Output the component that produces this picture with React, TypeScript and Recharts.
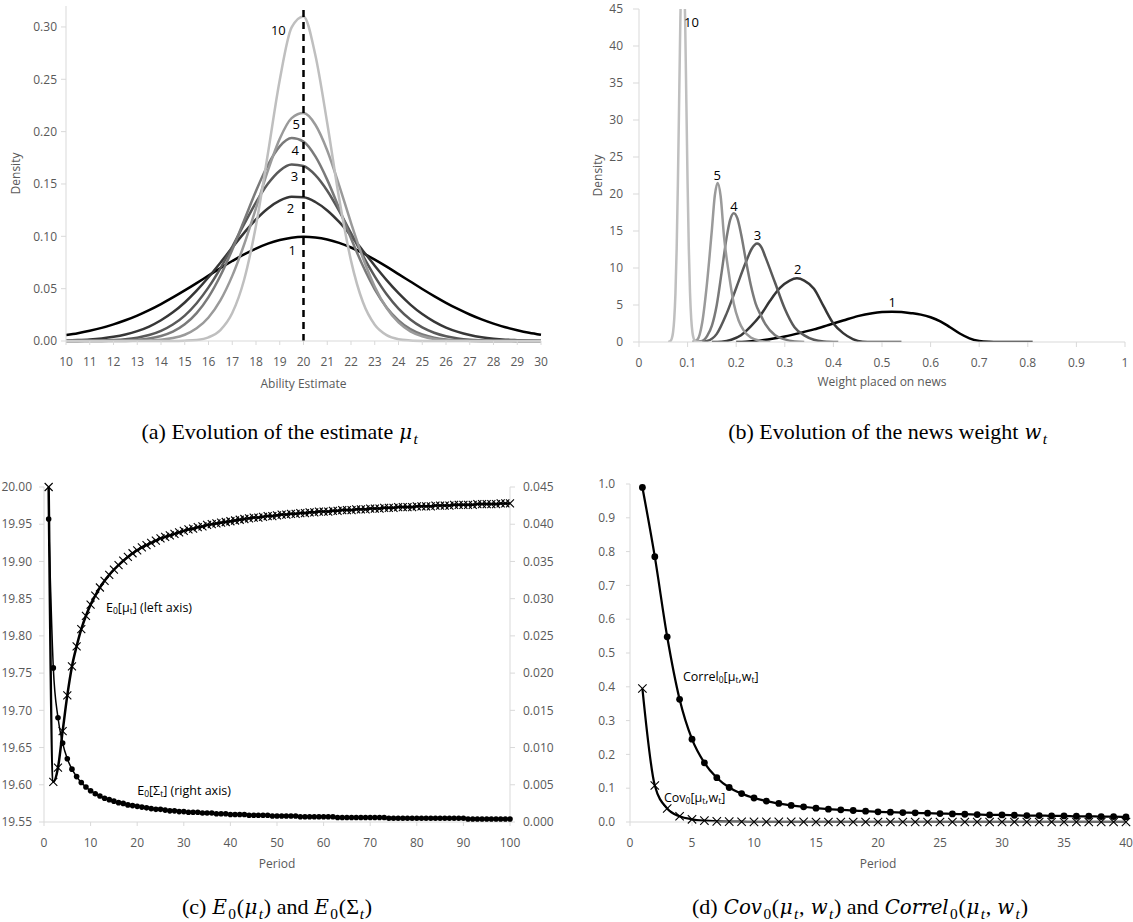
import React from 'react';
import { LineChart, Line, XAxis, YAxis, ReferenceLine, ReferenceDot } from 'recharts';

// ---------------- Panel (a): density of the ability estimate ----------------
const aX = [10, 10.5, 11, 11.5, 12, 12.5, 13, 13.5, 14, 14.5, 15, 15.5, 16, 16.5, 17, 17.5, 18, 18.5, 19, 19.5, 20, 20.5, 21, 21.5, 22, 22.5, 23, 23.5, 24, 24.5, 25, 25.5, 26, 26.5, 27, 27.5, 28, 28.5, 29, 29.5, 30];
const aPeriod1 = [0.0057, 0.0075, 0.0098, 0.0125, 0.0159, 0.0198, 0.0243, 0.0295, 0.0353, 0.0416, 0.0483, 0.0553, 0.0625, 0.0696, 0.0764, 0.0828, 0.0883, 0.093, 0.0964, 0.0987, 0.0995, 0.0989, 0.097, 0.0937, 0.0893, 0.0839, 0.0777, 0.071, 0.0639, 0.0568, 0.0497, 0.0429, 0.0365, 0.0306, 0.0253, 0.0206, 0.0166, 0.0131, 0.0103, 0.0079, 0.006];
const aPeriod2 = [0.0005, 0.0009, 0.0015, 0.0025, 0.004, 0.0062, 0.0094, 0.0138, 0.0198, 0.0274, 0.0368, 0.0481, 0.0609, 0.0748, 0.0892, 0.1033, 0.1161, 0.1266, 0.134, 0.1377, 0.1373, 0.1328, 0.1247, 0.1137, 0.1006, 0.0863, 0.0719, 0.0582, 0.0457, 0.0348, 0.0257, 0.0185, 0.0128, 0.0087, 0.0057, 0.0036, 0.0022, 0.0013, 0.0008, 0.0004, 0.0002];
const aPeriod3 = [0, 0.0001, 0.0002, 0.0004, 0.0009, 0.0017, 0.0032, 0.0057, 0.0097, 0.0157, 0.0243, 0.0361, 0.0512, 0.0694, 0.09, 0.1116, 0.1324, 0.1501, 0.1627, 0.1686, 0.1671, 0.1584, 0.1435, 0.1243, 0.103, 0.0816, 0.0618, 0.0447, 0.031, 0.0205, 0.013, 0.0079, 0.0045, 0.0025, 0.0013, 0.0007, 0.0003, 0.0002, 0.0001, 0, 0];
const aPeriod4 = [0, 0, 0, 0.0001, 0.0002, 0.0005, 0.0011, 0.0024, 0.0048, 0.0089, 0.0159, 0.0266, 0.0419, 0.0623, 0.0872, 0.1152, 0.1433, 0.1681, 0.1859, 0.1938, 0.1904, 0.1763, 0.1539, 0.1266, 0.0982, 0.0718, 0.0494, 0.0321, 0.0197, 0.0113, 0.0062, 0.0032, 0.0015, 0.0007, 0.0003, 0.0001, 0, 0, 0, 0, 0];
const aPeriod5 = [0, 0, 0, 0, 0, 0.0001, 0.0002, 0.0005, 0.0012, 0.0028, 0.006, 0.0121, 0.0225, 0.0388, 0.0622, 0.0922, 0.127, 0.1627, 0.1932, 0.2129, 0.2177, 0.2066, 0.182, 0.1487, 0.1129, 0.0795, 0.0519, 0.0315, 0.0177, 0.0092, 0.0045, 0.002, 0.0008, 0.0003, 0.0001, 0, 0, 0, 0, 0, 0];
const aPeriod10 = [0, 0, 0, 0, 0, 0, 0, 0, 0, 0, 0.0003, 0.001, 0.0035, 0.0105, 0.0267, 0.0585, 0.1103, 0.1788, 0.2493, 0.2995, 0.31, 0.2729, 0.208, 0.1363, 0.0768, 0.0372, 0.0155, 0.0056, 0.0017, 0.0005, 0.0001, 0, 0, 0, 0, 0, 0, 0, 0, 0, 0];
const aTicksX = [10, 11, 12, 13, 14, 15, 16, 17, 18, 19, 20, 21, 22, 23, 24, 25, 26, 27, 28, 29, 30];
const aTicksY = [0, 0.05, 0.1, 0.15, 0.2, 0.25, 0.3];
const aTrueAbility = 20;

// ---------------- Panel (b): density of the news weight ----------------
const bX1 = [0.2, 0.22, 0.25, 0.28, 0.3, 0.33, 0.36, 0.39, 0.42, 0.45, 0.48, 0.5, 0.52, 0.54, 0.56, 0.58, 0.6, 0.62, 0.64, 0.66, 0.68, 0.7, 0.72, 0.74, 0.81];
const bY1 = [0, 0.05, 0.2, 0.5, 0.75, 1.2, 1.7, 2.3, 2.9, 3.5, 3.9, 4.05, 4.1, 4.05, 3.9, 3.7, 3.35, 2.8, 2.0, 1.15, 0.5, 0.15, 0.03, 0, 0];
const bX2 = [0.15, 0.17, 0.19, 0.21, 0.23, 0.25, 0.27, 0.29, 0.31, 0.325, 0.34, 0.36, 0.38, 0.4, 0.42, 0.44, 0.46, 0.48, 0.54];
const bY2 = [0, 0.05, 0.3, 0.9, 2.1, 3.6, 5.6, 7.3, 8.3, 8.6, 8.3, 7.2, 4.8, 2.5, 1.2, 0.4, 0.05, 0, 0];
const bX3 = [0.12, 0.14, 0.16, 0.18, 0.2, 0.22, 0.232, 0.243, 0.252, 0.26, 0.28, 0.3, 0.32, 0.34, 0.36, 0.38, 0.41];
const bY3 = [0, 0.15, 1.1, 3.8, 7.3, 10.8, 12.6, 13.3, 12.8, 11.5, 8.0, 4.5, 2.0, 0.9, 0.3, 0.08, 0];
const bX4 = [0.11, 0.13, 0.14, 0.15, 0.16, 0.17, 0.18, 0.1875, 0.195, 0.2025, 0.21, 0.22, 0.23, 0.24, 0.25, 0.26, 0.28, 0.3, 0.32, 0.34];
const bY4 = [0, 0.15, 0.8, 2.2, 5.0, 9.4, 14.0, 16.5, 17.4, 16.7, 14.6, 11.0, 7.7, 5.2, 3.7, 2.4, 0.9, 0.35, 0.08, 0];
const bX5 = [0.11, 0.12, 0.13, 0.14, 0.15, 0.156, 0.162, 0.168, 0.175, 0.185, 0.195, 0.205, 0.215, 0.23, 0.25, 0.27];
const bY5 = [0, 0.3, 2.6, 8.0, 15.2, 19.8, 21.5, 19.7, 14.2, 9.2, 5.2, 2.9, 1.6, 0.6, 0.15, 0];
const bX10 = [0.06, 0.065, 0.0675, 0.07, 0.0725, 0.075, 0.0775, 0.08, 0.0825, 0.085, 0.0875, 0.09, 0.0925, 0.095, 0.0975, 0.1, 0.1025, 0.105, 0.1075, 0.11, 0.1125, 0.115, 0.12, 0.13];
const bY10 = [0, 0.155, 0.47, 1.28, 3.09, 6.61, 12.6, 21.4, 32.2, 43.2, 51.5, 54.6, 51.5, 43.2, 32.2, 21.4, 12.6, 6.61, 3.09, 1.28, 0.47, 0.155, 0.01, 0];
const bTicksX = [0, 0.1, 0.2, 0.3, 0.4, 0.5, 0.6, 0.7, 0.8, 0.9, 1];
const bTicksY = [0, 5, 10, 15, 20, 25, 30, 35, 40, 45];

// ---------------- Panel (c): E0(mu_t) and E0(Sigma_t) ----------------
const cMu = [
  20.0, 19.604, 19.623, 19.672, 19.72, 19.759, 19.786, 19.809, 19.827, 19.842,
  19.854, 19.865, 19.874, 19.882, 19.889, 19.895, 19.901, 19.906, 19.911, 19.915,
  19.919, 19.922, 19.925, 19.928, 19.931, 19.933, 19.935, 19.937, 19.939, 19.941,
  19.943, 19.944, 19.946, 19.947, 19.949, 19.95, 19.951, 19.952, 19.953, 19.954,
  19.955, 19.956, 19.957, 19.958, 19.959, 19.959, 19.96, 19.961, 19.961, 19.962,
  19.963, 19.963, 19.964, 19.964, 19.965, 19.965, 19.966, 19.966, 19.967, 19.967,
  19.967, 19.968, 19.968, 19.969, 19.969, 19.969, 19.97, 19.97, 19.97, 19.971,
  19.971, 19.971, 19.972, 19.972, 19.972, 19.973, 19.973, 19.973, 19.973, 19.974,
  19.974, 19.974, 19.974, 19.975, 19.975, 19.975, 19.975, 19.976, 19.976, 19.976,
  19.976, 19.976, 19.977, 19.977, 19.977, 19.977, 19.977, 19.978, 19.978, 19.978,
];
const cSigma = [
  0.0407, 0.0207, 0.014, 0.0106, 0.0085, 0.0071, 0.0061, 0.0053, 0.0047, 0.0042,
  0.0038, 0.0035, 0.0032, 0.003, 0.0028, 0.0026, 0.0025, 0.0023, 0.0022, 0.0021,
  0.002, 0.0019, 0.0018, 0.0017, 0.0017, 0.0016, 0.0015, 0.0015, 0.0014, 0.0014,
  0.0013, 0.0013, 0.0013, 0.0012, 0.0012, 0.0012, 0.0011, 0.0011, 0.0011, 0.001,
  0.001, 0.001, 0.001, 0.0009, 0.0009, 0.0009, 0.0009, 0.0009, 0.0008, 0.0008,
  0.0008, 0.0008, 0.0008, 0.0008, 0.0007, 0.0007, 0.0007, 0.0007, 0.0007, 0.0007,
  0.0007, 0.0007, 0.0006, 0.0006, 0.0006, 0.0006, 0.0006, 0.0006, 0.0006, 0.0006,
  0.0006, 0.0006, 0.0006, 0.0005, 0.0005, 0.0005, 0.0005, 0.0005, 0.0005, 0.0005,
  0.0005, 0.0005, 0.0005, 0.0005, 0.0005, 0.0005, 0.0005, 0.0005, 0.0005, 0.0005,
  0.0004, 0.0004, 0.0004, 0.0004, 0.0004, 0.0004, 0.0004, 0.0004, 0.0004, 0.0004,
];
const cTicksX = [0, 10, 20, 30, 40, 50, 60, 70, 80, 90, 100];
const cTicksLeft = [19.55, 19.6, 19.65, 19.7, 19.75, 19.8, 19.85, 19.9, 19.95, 20.0];
const cTicksRight = [0, 0.005, 0.01, 0.015, 0.02, 0.025, 0.03, 0.035, 0.04, 0.045];

// ---------------- Panel (d): Cov0 and Correl0 ----------------
const dCorrel = [
  0.99, 0.785, 0.548, 0.363, 0.245, 0.175, 0.131, 0.102, 0.084, 0.071,
  0.062, 0.055, 0.049, 0.045, 0.041, 0.038, 0.036, 0.034, 0.032, 0.03,
  0.029, 0.028, 0.027, 0.026, 0.025, 0.024, 0.023, 0.022, 0.021, 0.021,
  0.02, 0.019, 0.019, 0.018, 0.018, 0.017, 0.017, 0.016, 0.016, 0.015,
];
const dCov = [
  0.395, 0.108, 0.04, 0.017, 0.008, 0.004, 0.002, 0.0012, 0.0008, 0.0005,
  0.0004, 0.0003, 0.0002, 0.0002, 0.0001, 0.0001, 0.0001, 0.0001, 0.0001, 0.0001,
  0.0001, 0.0001, 0.0001, 0.0001, 0.0001, 0.0001, 0.0001, 0.0001, 0.0001, 0.0001,
  0.0001, 0.0001, 0.0001, 0.0001, 0.0001, 0.0001, 0.0001, 0.0001, 0.0001, 0.0001,
];
const dTicksX = [0, 5, 10, 15, 20, 25, 30, 35, 40];
const dTicksY = [0, 0.1, 0.2, 0.3, 0.4, 0.5, 0.6, 0.7, 0.8, 0.9, 1.0];

// ---------------- tables built from the arrays ----------------
const aData = aX.map((x, i) => ({ x, p1: aPeriod1[i], p2: aPeriod2[i], p3: aPeriod3[i], p4: aPeriod4[i], p5: aPeriod5[i], p10: aPeriod10[i] }));
const pairs = (xs: number[], ys: number[]) => xs.map((x, i) => ({ x, y: ys[i] }));
const bData1 = pairs(bX1, bY1);
const bData2 = pairs(bX2, bY2);
const bData3 = pairs(bX3, bY3);
const bData4 = pairs(bX4, bY4);
const bData5 = pairs(bX5, bY5);
const bData10 = pairs(bX10, bY10);
const cData = cMu.map((m, i) => ({ t: i + 1, mu: m, sigma: cSigma[i] }));
const dData = dCorrel.map((c, i) => ({ t: i + 1, correl: c, cov: dCov[i] }));

// ---------------- styling ----------------
const FONT = '"Open Sans", "Noto Sans", sans-serif';
const AXIS_COLOR = '#d9d9d9';
const TICK_COLOR = '#595959';
const tickStyle = { fill: TICK_COLOR, fontSize: 12, fontFamily: FONT };
const axisLine = { stroke: AXIS_COLOR, strokeWidth: 1 };
const titleStyle = { fill: TICK_COLOR, fontSize: 12, fontFamily: FONT };

const C1 = '#000000';
const C2 = '#363636';
const C3 = '#595959';
const C4 = '#7a7a7a';
const C5 = '#9a9a9a';
const C10 = '#bfbfbf';

const xMark = (s: number) => (props: any) => {
  const { cx, cy, index } = props;
  if (cx == null || cy == null || isNaN(cx) || isNaN(cy)) return <g key={`xm-${index}`} />;
  return (
    <path
      key={`xm-${index}`}
      d={`M${cx - s},${cy - s}L${cx + s},${cy + s}M${cx - s},${cy + s}L${cx + s},${cy - s}`}
      stroke="#000"
      strokeWidth={1.1}
      fill="none"
    />
  );
};

const numLabel = (text: string) => (p: any) => (
  <text x={p.cx} y={p.cy} textAnchor="middle" dominantBaseline="central" fontFamily={FONT} fontSize={13} fill="#000">
    {text}
  </text>
);

type Seg = [string, boolean];
const subLabel = (segs: Seg[]) => (p: any) => (
  <text x={p.cx} y={p.cy} dominantBaseline="central" fontFamily={FONT} fontSize={12.5} fill="#000">
    {segs.map(([t, sub], i) => {
      const prevSub = i > 0 && segs[i - 1][1];
      const dy = sub && !prevSub ? 3 : !sub && prevSub ? -3 : 0;
      return (
        <tspan key={i} dy={dy} fontSize={sub ? 8.5 : 12.5}>
          {t}
        </tspan>
      );
    })}
  </text>
);

const Sub = ({ children }: { children: React.ReactNode }) => (
  <span style={{ fontSize: '0.7em', position: 'relative', top: '0.3em', margin: '0 0.05em' }}>{children}</span>
);
const M = ({ children }: { children: React.ReactNode }) => (
  <span style={{ fontStyle: 'italic', fontFamily: '"DejaVu Serif", serif', fontSize: '0.9em', margin: '0 0.03em' }}>{children}</span>
);

const capStyle = (cx: number, cy: number): React.CSSProperties => ({
  position: 'absolute',
  left: cx - 300,
  width: 600,
  top: cy - 14,
  height: 28,
  textAlign: 'center',
  fontFamily: '"Liberation Serif", "DejaVu Serif", serif',
  fontSize: 22,
  lineHeight: '28px',
  color: '#000',
  whiteSpace: 'nowrap',
});

const box = (left: number, top: number): React.CSSProperties => ({ position: 'absolute', left, top });

export default function App() {
  return (
    <div style={{ position: 'absolute', left: 0, top: 0, width: 1133, height: 922, background: '#fff', overflow: 'hidden' }}>
      {/* (a) */}
      <div style={box(0, 0)}>
        <LineChart width={560} height={400} data={aData} margin={{ top: 6, right: 19, left: 6, bottom: 12 }}>
          <XAxis
            type="number"
            dataKey="x"
            domain={[10, 30]}
            ticks={aTicksX}
            interval={0}
            height={47}
            axisLine={axisLine}
            tickLine={{ stroke: AXIS_COLOR }}
            tickSize={4}
            tickMargin={12}
            tick={tickStyle}
            label={{ value: 'Ability Estimate', position: 'insideBottom', offset: 0, style: titleStyle }}
          />
          <YAxis
            type="number"
            domain={[0, 0.32]}
            ticks={aTicksY}
            interval={0}
            width={60}
            axisLine={axisLine}
            tickLine={{ stroke: AXIS_COLOR }}
            tickSize={5}
            tickMargin={4}
            tick={tickStyle}
            tickFormatter={(v: number) => v.toFixed(2)}
            label={{ value: 'Density', angle: -90, position: 'insideLeft', offset: 10, style: { ...titleStyle, textAnchor: 'middle' } }}
          />
          <Line dataKey="p1" type="monotone" stroke={C1} strokeWidth={2.5} dot={false} activeDot={false} isAnimationActive={false} />
          <Line dataKey="p2" type="monotone" stroke={C2} strokeWidth={2.5} dot={false} activeDot={false} isAnimationActive={false} />
          <Line dataKey="p3" type="monotone" stroke={C3} strokeWidth={2.5} dot={false} activeDot={false} isAnimationActive={false} />
          <Line dataKey="p4" type="monotone" stroke={C4} strokeWidth={2.5} dot={false} activeDot={false} isAnimationActive={false} />
          <Line dataKey="p5" type="monotone" stroke={C5} strokeWidth={2.5} dot={false} activeDot={false} isAnimationActive={false} />
          <Line dataKey="p10" type="monotone" stroke={C10} strokeWidth={2.5} dot={false} activeDot={false} isAnimationActive={false} />
          <ReferenceLine x={aTrueAbility} stroke="#000" strokeWidth={2.5} strokeDasharray="7 5" />
          <ReferenceDot x={18.94} y={0.297} r={0} shape={numLabel('10')} />
          <ReferenceDot x={19.69} y={0.207} r={0} shape={numLabel('5')} />
          <ReferenceDot x={19.65} y={0.182} r={0} shape={numLabel('4')} />
          <ReferenceDot x={19.62} y={0.158} r={0} shape={numLabel('3')} />
          <ReferenceDot x={19.45} y={0.127} r={0} shape={numLabel('2')} />
          <ReferenceDot x={19.52} y={0.087} r={0} shape={numLabel('1')} />
        </LineChart>
      </div>

      {/* (b) */}
      <div style={box(560, 0)}>
        <LineChart width={573} height={400} margin={{ top: 9, right: 8, left: 20, bottom: 14 }}>
          <XAxis
            type="number"
            dataKey="x"
            domain={[0, 1]}
            ticks={bTicksX}
            interval={0}
            height={44}
            axisLine={axisLine}
            tickLine={{ stroke: AXIS_COLOR }}
            tickSize={5}
            tickMargin={11}
            tick={tickStyle}
            label={{ value: 'Weight placed on news', position: 'insideBottom', offset: 0, style: titleStyle }}
          />
          <YAxis
            type="number"
            dataKey="y"
            domain={[0, 45]}
            allowDataOverflow
            ticks={bTicksY}
            interval={0}
            width={59}
            axisLine={axisLine}
            tickLine={{ stroke: AXIS_COLOR }}
            tickSize={6}
            tickMargin={10}
            tick={tickStyle}
            label={{ value: 'Density', angle: -90, position: 'insideLeft', offset: 18, style: { ...titleStyle, textAnchor: 'middle' } }}
          />
          <Line data={bData1} dataKey="y" type="monotone" stroke={C1} strokeWidth={2.5} dot={false} activeDot={false} isAnimationActive={false} />
          <Line data={bData2} dataKey="y" type="monotone" stroke={C2} strokeWidth={2.5} dot={false} activeDot={false} isAnimationActive={false} />
          <Line data={bData3} dataKey="y" type="monotone" stroke={C3} strokeWidth={2.5} dot={false} activeDot={false} isAnimationActive={false} />
          <Line data={bData4} dataKey="y" type="monotone" stroke={C4} strokeWidth={2.5} dot={false} activeDot={false} isAnimationActive={false} />
          <Line data={bData5} dataKey="y" type="monotone" stroke={C5} strokeWidth={2.5} dot={false} activeDot={false} isAnimationActive={false} />
          <Line data={bData10} dataKey="y" type="monotone" stroke={C10} strokeWidth={2.5} dot={false} activeDot={false} isAnimationActive={false} />
          <ReferenceDot x={0.108} y={43.3} r={0} shape={numLabel('10')} />
          <ReferenceDot x={0.161} y={22.55} r={0} shape={numLabel('5')} />
          <ReferenceDot x={0.1955} y={18.4} r={0} shape={numLabel('4')} />
          <ReferenceDot x={0.244} y={14.5} r={0} shape={numLabel('3')} />
          <ReferenceDot x={0.3265} y={9.8} r={0} shape={numLabel('2')} />
          <ReferenceDot x={0.521} y={5.45} r={0} shape={numLabel('1')} />
        </LineChart>
      </div>

      {/* (c) */}
      <div style={box(0, 460)}>
        <LineChart width={560} height={460} data={cData} margin={{ top: 27, right: 0, left: 0, bottom: 52 }}>
          <XAxis
            type="number"
            dataKey="t"
            domain={[0, 100]}
            ticks={cTicksX}
            interval={0}
            height={46}
            axisLine={axisLine}
            tickLine={{ stroke: AXIS_COLOR }}
            tickSize={4}
            tickMargin={12}
            tick={tickStyle}
            label={{ value: 'Period', position: 'insideBottom', offset: 0, style: titleStyle }}
          />
          <YAxis
            yAxisId="left"
            orientation="left"
            type="number"
            domain={[19.55, 20.0]}
            ticks={cTicksLeft}
            interval={0}
            width={44}
            axisLine={axisLine}
            tickLine={{ stroke: AXIS_COLOR }}
            tickSize={5}
            tickMargin={7}
            tick={tickStyle}
            tickFormatter={(v: number) => v.toFixed(2)}
          />
          <YAxis
            yAxisId="right"
            orientation="right"
            type="number"
            domain={[0, 0.045]}
            ticks={cTicksRight}
            interval={0}
            width={50}
            axisLine={axisLine}
            tickLine={{ stroke: AXIS_COLOR }}
            tickSize={5}
            tickMargin={8}
            tick={tickStyle}
            tickFormatter={(v: number) => v.toFixed(3)}
          />
          <Line yAxisId="right" dataKey="sigma" type="monotone" stroke="#000" strokeWidth={1.5} dot={{ r: 2.8, fill: '#000', stroke: '#000', strokeWidth: 0 }} activeDot={false} isAnimationActive={false} />
          <Line yAxisId="left" dataKey="mu" type="monotone" stroke="#000" strokeWidth={2.5} dot={xMark(4)} activeDot={false} isAnimationActive={false} />
          <ReferenceDot
            yAxisId="left"
            x={13.3}
            y={19.839}
            r={0}
            shape={subLabel([['E', false], ['0', true], ['[μ', false], ['t', true], ['] (left axis)', false]])}
          />
          <ReferenceDot
            yAxisId="left"
            x={20}
            y={19.593}
            r={0}
            shape={subLabel([['E', false], ['0', true], ['[Σ', false], ['t', true], ['] (right axis)', false]])}
          />
        </LineChart>
      </div>

      {/* (d) */}
      <div style={box(560, 460)}>
        <LineChart width={573} height={460} data={dData} margin={{ top: 24, right: 7, left: 0, bottom: 52 }}>
          <XAxis
            type="number"
            dataKey="t"
            domain={[0, 40]}
            ticks={dTicksX}
            interval={0}
            height={46}
            axisLine={axisLine}
            tickLine={{ stroke: AXIS_COLOR }}
            tickSize={4}
            tickMargin={12}
            tick={tickStyle}
            label={{ value: 'Period', position: 'insideBottom', offset: 0, style: titleStyle }}
          />
          <YAxis
            type="number"
            domain={[0, 1]}
            ticks={dTicksY}
            interval={0}
            width={70}
            axisLine={axisLine}
            tickLine={{ stroke: AXIS_COLOR }}
            tickSize={4}
            tickMargin={11}
            tick={tickStyle}
            tickFormatter={(v: number) => v.toFixed(1)}
          />
          <Line dataKey="cov" type="monotone" stroke="#000" strokeWidth={2.25} dot={xMark(4.2)} activeDot={false} isAnimationActive={false} />
          <Line dataKey="correl" type="monotone" stroke="#000" strokeWidth={2.25} dot={{ r: 3.4, fill: '#000', stroke: '#000', strokeWidth: 0 }} activeDot={false} isAnimationActive={false} />
          <ReferenceDot
            x={4.27}
            y={0.431}
            r={0}
            shape={subLabel([['Correl', false], ['0', true], ['[μ', false], ['t', true], [',w', false], ['t', true], [']', false]])}
          />
          <ReferenceDot
            x={2.74}
            y={0.073}
            r={0}
            shape={subLabel([['Cov', false], ['0', true], ['[μ', false], ['t', true], [',w', false], ['t', true], [']', false]])}
          />
        </LineChart>
      </div>

      {/* captions */}
      <div style={capStyle(280, 432)}>
        (a) Evolution of the estimate <M>μ</M><Sub><i>t</i></Sub>
      </div>
      <div style={capStyle(888, 432)}>
        (b) Evolution of the news weight <M>w</M><Sub><i>t</i></Sub>
      </div>
      <div style={capStyle(277, 907)}>
        (c) <M>E</M><Sub>0</Sub>(<M>μ</M><Sub><i>t</i></Sub>) and <M>E</M><Sub>0</Sub>(Σ<Sub><i>t</i></Sub>)
      </div>
      <div style={capStyle(860, 907)}>
        (d) <M>Cov</M><Sub>0</Sub>(<M>μ</M><Sub><i>t</i></Sub>, <M>w</M><Sub><i>t</i></Sub>) and <M>Correl</M><Sub>0</Sub>(<M>μ</M><Sub><i>t</i></Sub>, <M>w</M><Sub><i>t</i></Sub>)
      </div>
    </div>
  );
}
